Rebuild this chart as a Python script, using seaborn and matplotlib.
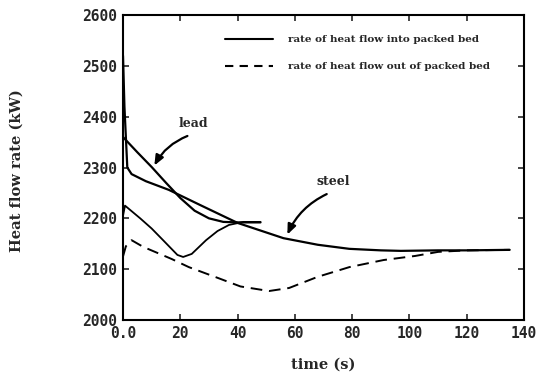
import matplotlib
matplotlib.use("Agg")
import matplotlib.pyplot as plt
import seaborn as sns
import numpy as np
from matplotlib.lines import Line2D

# ---- data ----
steel_in_t = [0, 0.5, 1.5, 3, 8, 16, 27, 40, 56, 68, 79, 90, 97, 110, 120, 135]
steel_in_q = [2520, 2420, 2300, 2287, 2273, 2256, 2226, 2191, 2161, 2148, 2140, 2137, 2136, 2137, 2137, 2138]

lead_in_t = [0, 5, 10, 15, 20, 25, 30, 35, 40, 48]
lead_in_q = [2360, 2330, 2301, 2270, 2240, 2215, 2200, 2193, 2192, 2192]

lead_out_t = [0, 0.7, 6, 10, 14, 19, 21, 24, 29, 33, 37, 42, 48]
lead_out_q = [2205, 2225, 2200, 2180, 2157, 2128, 2124, 2130, 2157, 2175, 2187, 2193, 2193]

steel_out_t = [0, 1, 3, 7, 17, 23, 33, 41, 51, 58, 68, 79, 91, 102, 110, 120, 135]
steel_out_q = [2125, 2145, 2157, 2144, 2120, 2104, 2083, 2066, 2057, 2063, 2085, 2104, 2118, 2126, 2134, 2137, 2138]

x_ticks = [0, 20, 40, 60, 80, 100, 120, 140]
x_ticklabels = ["0.0", "20", "40", "60", "80", "100", "120", "140"]
y_ticks = [2000, 2100, 2200, 2300, 2400, 2500, 2600]

legend_labels = ["rate of heat flow into packed bed", "rate of heat flow out of packed bed"]

sns.set_style("ticks")
plt.rcParams["font.family"] = ["DejaVu Sans"]

W, H = 543, 382
fig = plt.figure(figsize=(W / 100, H / 100), dpi=100)
ax = fig.add_axes([123 / W, 1 - 320 / H, (524 - 123) / W, (320 - 15) / H])

lw = 1.6
sns.lineplot(x=steel_in_t, y=steel_in_q, ax=ax, color="black", lw=lw, estimator=None, sort=False)
sns.lineplot(x=lead_in_t, y=lead_in_q, ax=ax, color="black", lw=lw, estimator=None, sort=False)
sns.lineplot(x=lead_out_t, y=lead_out_q, ax=ax, color="black", lw=1.3, estimator=None, sort=False)
sns.lineplot(x=steel_out_t, y=steel_out_q, ax=ax, color="black", lw=1.4, estimator=None, sort=False,
             linestyle=(0, (6, 3.5)))

ax.set_xlim(0, 140)
ax.set_ylim(2000, 2600)
ax.set_xticks(x_ticks)
ax.set_xticklabels(x_ticklabels)
ax.set_yticks(y_ticks)
ax.tick_params(direction="in", top=True, right=True, length=4, width=1.2, pad=4)
for lab in ax.get_xticklabels() + ax.get_yticklabels():
    lab.set_fontfamily("DejaVu Sans Mono")
    lab.set_fontweight("bold")
    lab.set_fontsize(10.5)
for s in ax.spines.values():
    s.set_linewidth(1.5)
    s.set_color("black")

ax.set_xlabel("time (s)", fontfamily="DejaVu Serif", fontweight="bold", fontsize=10.5)
ax.xaxis.set_label_coords(0.5, (320 - 358) / 305)
ax.set_ylabel("Heat flow rate (kW)", fontfamily="DejaVu Serif", fontweight="bold", fontsize=10.5)
ax.yaxis.set_label_coords((18 - 123) / 401 + 0.015, 0.49)

handles = [Line2D([], [], color="black", lw=1.5),
           Line2D([], [], color="black", lw=1.5, linestyle=(0, (4, 3)))]
leg = ax.legend(handles, legend_labels, loc="upper left",
                bbox_to_anchor=(225 / W, 1 - 35 / H), bbox_transform=fig.transFigure,
                frameon=False, borderpad=0, borderaxespad=0,
                handlelength=4.6, handletextpad=1.45, labelspacing=1.7,
                prop={"family": "DejaVu Serif", "weight": "bold", "size": 7.5})

arrow_kw = dict(arrowstyle="-|>,head_length=0.6,head_width=0.25", color="black", lw=1.6,
                connectionstyle="arc3,rad=0.2")
ax.text(24.4, 2386, "lead", ha="center", va="center",
        fontfamily="DejaVu Serif", fontweight="bold", fontsize=9)
ax.annotate("", xy=(10.5, 2299), xytext=(23.4, 2364), arrowprops=arrow_kw)
ax.text(73.3, 2272, "steel", ha="center", va="center",
        fontfamily="DejaVu Serif", fontweight="bold", fontsize=9)
ax.annotate("", xy=(57, 2163), xytext=(72, 2250), arrowprops=arrow_kw)

fig.savefig("out.png", dpi=100)
